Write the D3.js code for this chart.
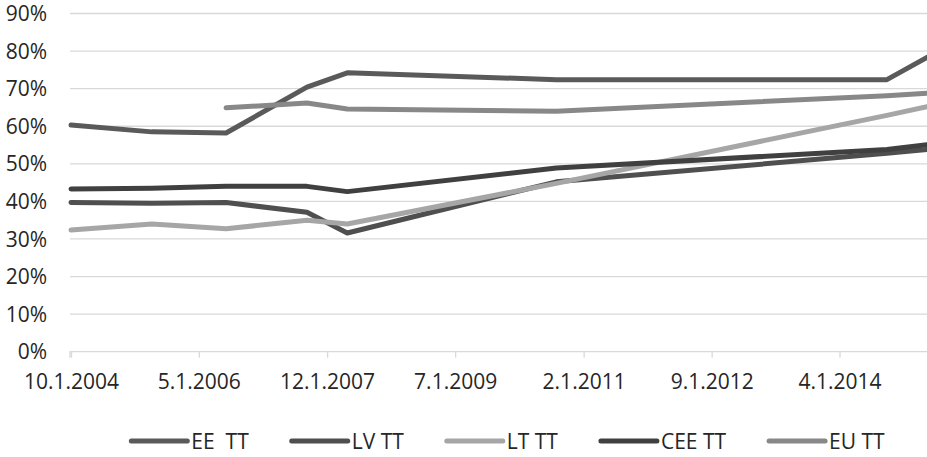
<!DOCTYPE html>
<html>
<head>
<meta charset="utf-8">
<script src="https://cdn.jsdelivr.net/npm/d3@7"></script>
<style>
  html, body { margin: 0; padding: 0; background: #fff; }
  svg text { font-family: "Open Sans", sans-serif; fill: #262626; }
</style>
</head>
<body>
<svg id="chart"></svg>
<script>
// data
var dates = ['2004-10-01', '2005-10-01', '2006-09-01', '2007-09-01', '2008-03-01', '2010-10-01', '2014-11-01', '2015-05-01'];
var eeTT  = [60.3, 58.5, 58.2, 70.4, 74.2, 72.4, 72.4, 78.3];
var lvTT  = [39.7, 39.5, 39.7, 37.1, 31.6, 45.2, 52.8, 53.8];
var ltTT  = [32.4, 34.0, 32.7, 35.0, 34.0, 44.8, 62.9, 65.2];
var ceeTT = [43.3, 43.5, 44.0, 44.0, 42.6, 48.9, 53.8, 55.1];
var euTT  = [null, null, 64.9, 66.2, 64.6, 64.0, 68.1, 68.8];
var seriesNames = ['EE  TT', 'LV TT', 'LT TT', 'CEE TT', 'EU TT'];
var tickLabels = ['10.1.2004', '5.1.2006', '12.1.2007', '7.1.2009', '2.1.2011', '9.1.2012', '4.1.2014'];
var yTicks = [0, 10, 20, 30, 40, 50, 60, 70, 80, 90];

var config = {
    width: 927,
    height: 457,
    left: 70,
    right: 927,
    top: 13.5,
    bottom: 351.7,
    colors: ['#5a5a5a', '#4f4f4f', '#a6a6a6', '#404040', '#888888']
};

var parseDate = d3.timeParse('%Y-%m-%d');
var parseTick = d3.timeParse('%m.%d.%Y');
var xDates = dates.map(parseDate);
var allSeries = [eeTT, lvTT, ltTT, ceeTT, euTT];

var svg = d3.select('#chart')
    .attr('width', config.width)
    .attr('height', config.height);

var x = d3.scaleTime()
    .domain(d3.extent(xDates))
    .range([config.left + 1, config.right]);

var y = d3.scaleLinear()
    .domain([0, 90])
    .range([config.bottom, config.top]);

// gridlines
svg.append('g')
    .selectAll('line')
    .data(yTicks.slice(1))
    .enter()
    .append('line')
    .attr('x1', config.left)
    .attr('x2', config.right)
    .attr('y1', function(d) { return y(d); })
    .attr('y2', function(d) { return y(d); })
    .attr('stroke', '#d9d9d9')
    .attr('stroke-width', 1.3);

// y axis labels
svg.append('g')
    .selectAll('text')
    .data(yTicks)
    .enter()
    .append('text')
    .attr('x', 47)
    .attr('y', function(d) { return y(d); })
    .attr('dy', '0.36em')
    .attr('text-anchor', 'end')
    .style('font-size', '21px')
    .text(function(d) { return d + '%'; });

// x axis
var xAxis = d3.axisBottom(x)
    .tickValues(tickLabels.map(parseTick))
    .tickSize(6)
    .tickPadding(16)
    .tickFormat(function(d, i) { return tickLabels[i]; });

var gx = svg.append('g')
    .attr('transform', 'translate(0,' + config.bottom + ')')
    .call(xAxis);

gx.select('.domain')
    .attr('d', 'M' + config.left + ',6V0H' + config.right)
    .attr('stroke', '#d9d9d9')
    .attr('stroke-width', 1.3);
gx.selectAll('.tick line').attr('stroke', '#d9d9d9').attr('stroke-width', 1.3);
gx.selectAll('.tick text')
    .style('font-size', '21px')
    .style('font-family', '"Open Sans", sans-serif')
    .attr('fill', '#262626');

// lines
var line = d3.line()
    .defined(function(d) { return d.v !== null; })
    .x(function(d) { return x(d.date); })
    .y(function(d) { return y(d.v); });

svg.append('g')
    .selectAll('path')
    .data(allSeries)
    .enter()
    .append('path')
    .attr('fill', 'none')
    .attr('stroke', function(d, i) { return config.colors[i]; })
    .attr('stroke-width', 5)
    .attr('stroke-linecap', 'round')
    .attr('stroke-linejoin', 'round')
    .attr('d', function(d) {
        return line(d.map(function(v, i) { return { date: xDates[i], v: v }; }));
    });

// legend
var legend = svg.append('g').attr('transform', 'translate(0,441)');
var items = legend.selectAll('g')
    .data(seriesNames)
    .enter()
    .append('g');

items.append('line')
    .attr('x1', 0)
    .attr('x2', 56)
    .attr('stroke', function(d, i) { return config.colors[i]; })
    .attr('stroke-width', 5)
    .attr('stroke-linecap', 'round');

items.append('text')
    .attr('x', 60)
    .attr('dy', '0.36em')
    .style('font-size', '21px')
    .style('white-space', 'pre')
    .attr('xml:space', 'preserve')
    .text(function(d) { return d; });

var gap = 43;
var offsets = [];
var pos = 0;
items.each(function() {
    offsets.push(pos);
    pos += 60 + this.querySelector('text').getComputedTextLength() + gap;
});
var total = pos - gap;
var start = 508 - total / 2;
items.attr('transform', function(d, i) { return 'translate(' + (start + offsets[i]) + ',0)'; });
</script>
</body>
</html>
